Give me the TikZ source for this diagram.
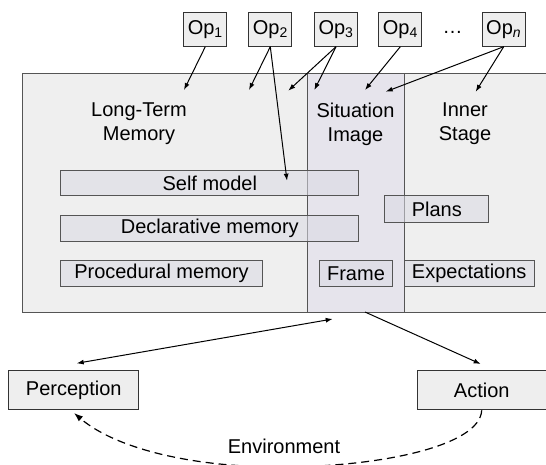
\documentclass[tikz,border=0pt]{standalone}
\usepackage{fontspec}
\setmainfont{Liberation Sans}
\usetikzlibrary{arrows.meta}

\definecolor{edgegray}{HTML}{555555}
\definecolor{panelfill}{HTML}{EFEFEF}
\definecolor{situfill}{HTML}{E6E4EC}
\definecolor{partfill}{HTML}{DADAE4}
\definecolor{opfill}{HTML}{EEEEEE}

\tikzset{
  txt/.style={font=\fontsize{20}{24.3}\selectfont, inner sep=0pt},
  panel/.style={draw=edgegray, line width=1.2pt, anchor=north west, inner sep=0pt},
  part/.style={draw=edgegray, line width=1pt, fill=partfill, fill opacity=0.55,
    text opacity=1, anchor=north west, inner sep=0pt,
    font=\fontsize{20}{24}\selectfont},
  opbox/.style={draw=black!80, line width=1pt, fill=opfill, anchor=north west,
    inner sep=0pt, minimum width=43pt, minimum height=33.4pt,
    font=\fontsize{20}{23}\selectfont},
  iobox/.style={draw=black!80, line width=1pt, fill=opfill, anchor=north west,
    inner sep=0pt, minimum width=130pt, minimum height=39pt,
    font=\fontsize{20}{24}\selectfont},
  link/.style={draw=black, line width=1pt, -{Latex[length=7pt,width=5pt]}},
  envlink/.style={draw=black, line width=1.2pt, dash pattern=on 8pt off 5pt,
    -{Latex[length=9pt,width=6.5pt]}}
}

\begin{document}
\begin{tikzpicture}[x=1pt, y=-1pt]
\useasboundingbox (0,0) rectangle (546,464);
\clip (0,0) rectangle (546,464);

% operator boxes
\node[opbox] (op1) at (183.3,12.3) {Op\textsubscript{1}};
\node[opbox] (op2) at (248.3,12.3) {Op\textsubscript{2}};
\node[opbox] (op3) at (314,12.3) {Op\textsubscript{3}};
\node[opbox] (op4) at (378.3,12.3) {Op\textsubscript{4}};
\node[txt, anchor=base] (dots) at (452.7,33.5) {…};
\node[opbox] (opn) at (481.7,12.3) {Op\textsubscript{\textit{n}}};

% the mind panel and its columns
\node[panel, fill=panelfill, minimum width=540pt, minimum height=239.3pt] (mind) at (22,72.7) {};
\node[panel, fill=situfill, minimum width=97pt, minimum height=239.3pt] (situ) at (307,72.7) {};

% column headings
\node[txt, align=center] (ltm) at (139,124) {Long-Term\\Memory};
\node[txt, align=center] (sit) at (355.5,124) {Situation\\Image};
\node[txt, align=center] (stage) at (465,124) {Inner\\Stage};

% contents
\node[part, minimum width=298pt, minimum height=25pt] (self) at (60.3,170) {Self model};
\node[part, minimum width=298pt, minimum height=26pt] (decl) at (60.3,215) {Declarative memory};
\node[part, minimum width=201.4pt, minimum height=26pt] (proc) at (60.3,260.3) {Procedural memory};
\node[part, minimum width=104pt, minimum height=26.7pt] (plans) at (384.3,195) {Plans};
\node[part, minimum width=72.4pt, minimum height=26pt] (frame) at (319.3,260.3) {Frame};
\node[part, minimum width=130pt, minimum height=26pt] (expect) at (403.7,260.3) {Expectations};

% perception and action
\node[iobox] (perc) at (8.3,370.3) {Perception};
\node[iobox, minimum width=129pt] (act) at (416.7,370.3) {Action};
\node[txt, anchor=base] (env) at (284,453.3) {Environment};

% arrow end points
\coordinate (ltmA) at (184,90);
\coordinate (ltmB) at (249,90);
\coordinate (ltmC) at (288.3,90.7);
\coordinate (selfA) at (287,180.7);
\coordinate (sitA) at (314.3,90);
\coordinate (sitB) at (365,90);
\coordinate (sitC) at (385.7,91.7);
\coordinate (stageA) at (475.7,91.7);
\coordinate (percIn) at (76.7,363.3);
\coordinate (sitOut) at (332.7,319);
\coordinate (actFrom) at (365,312);
\coordinate (actIn) at (480.7,364);
\coordinate (envLow) at (280,467);
\coordinate (percEnv) at (74,413);

% operators acting on the mind
\draw[link] (op1.south) -- (ltmA);
\draw[link] (op2.south) -- (ltmB);
\draw[link] (op2.south) -- (selfA);
\draw[link] (op3.south) -- (ltmC);
\draw[link] (op3.south) -- (sitA);
\draw[link] (op4.south) -- (sitB);
\draw[link] (opn.south) -- (sitC);
\draw[link] (opn.south) -- (stageA);

% perception / action loop
\draw[link, {Latex[length=7pt,width=5pt]}-{Latex[length=7pt,width=5pt]}] (percIn) -- (sitOut);
\draw[link] (actFrom) -- (actIn);
\draw[envlink] (act.south) .. controls (480,446) and (380,467) .. (envLow)
  .. controls (190,467) and (115,448) .. (percEnv);
\end{tikzpicture}
\end{document}
